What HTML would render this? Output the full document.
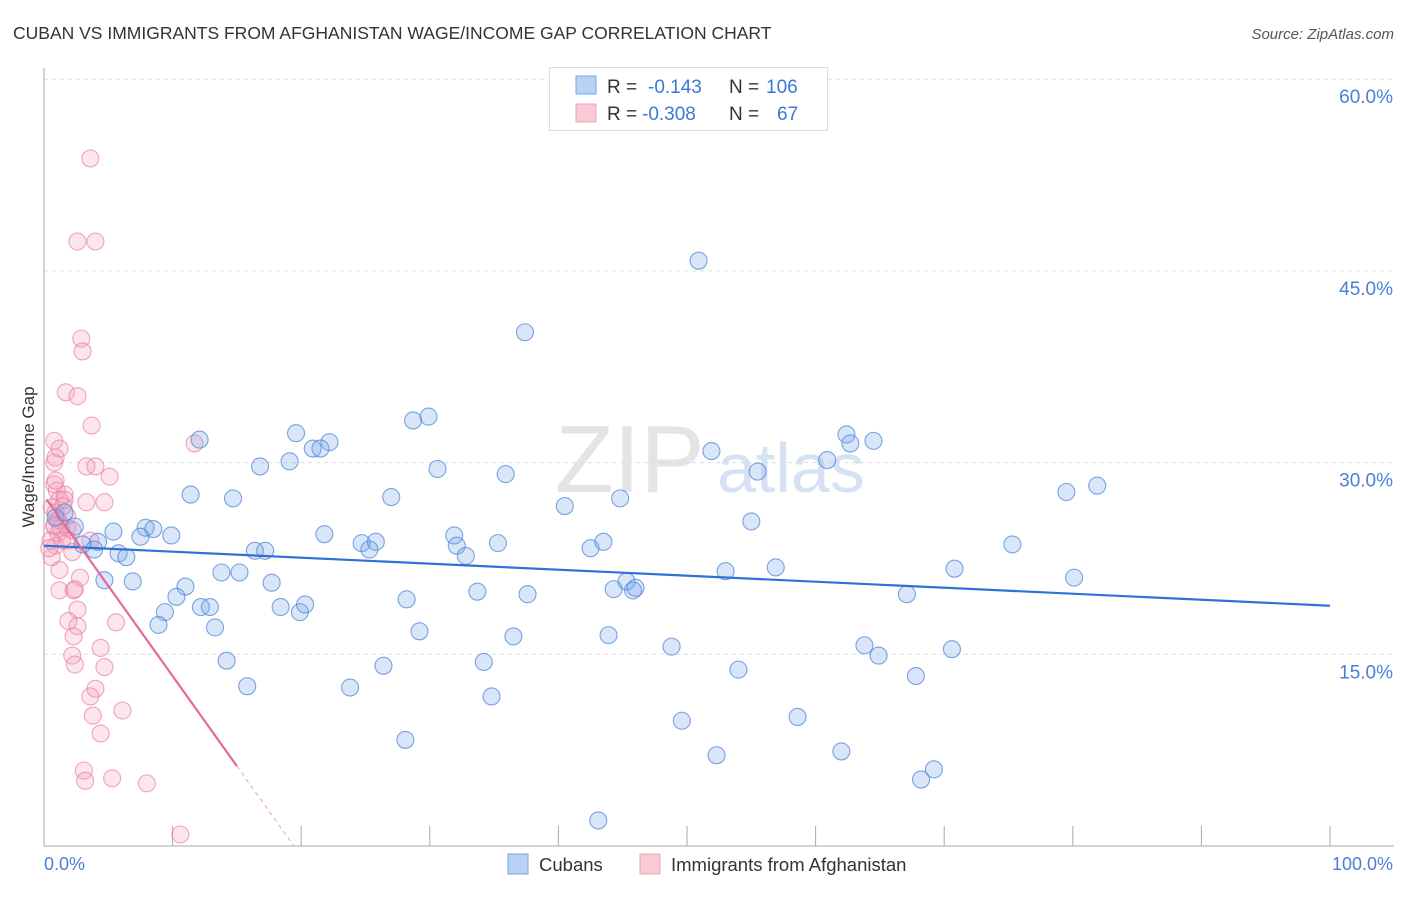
<!DOCTYPE html>
<html><head><meta charset="utf-8"><style>
body{margin:0;background:#fff;font-family:"Liberation Sans",sans-serif;}
svg text{font-family:"Liberation Sans",sans-serif;}
</style></head><body>
<svg id="chart" width="1406" height="892" viewBox="0 0 1406 892" xmlns="http://www.w3.org/2000/svg">
<text x="13" y="39" font-size="17.5" fill="#333">CUBAN VS IMMIGRANTS FROM AFGHANISTAN WAGE/INCOME GAP CORRELATION CHART</text>
<text x="1394" y="39" font-size="15" fill="#555" font-style="italic" text-anchor="end">Source: ZipAtlas.com</text>
<text x="555" y="492" font-size="96" fill="#e4e4e4" font-family="Liberation Serif">ZIP</text>
<text x="717" y="492" font-size="70" fill="#d6e2f3">atlas</text>
<g id="grid"></g>
<g id="axes"></g>
<g id="pink"></g>
<g id="blue"></g>
<g id="trends"></g>
<text transform="translate(34,457) rotate(-90)" font-size="17" fill="#333" text-anchor="middle">Wage/Income Gap</text>
<text x="44" y="870" font-size="18" fill="#4a7fd4">0.0%</text>
<text x="1393" y="870" font-size="18" fill="#4a7fd4" text-anchor="end">100.0%</text>
<g>
<rect x="549.5" y="67.5" width="278" height="63" fill="#fff" stroke="#ddd"/>
<rect x="576" y="76" width="20" height="18" fill="#b8d2f4" stroke="#7aa6e6"/>
<rect x="576" y="104" width="20" height="18" fill="#fbc8d6" stroke="#f0a0b8"/>
<text x="607" y="93" font-size="19" fill="#333">R =</text>
<text x="648" y="93" font-size="19" fill="#3a78d6">-0.143</text>
<text x="729" y="93" font-size="19" fill="#333">N =</text>
<text x="766" y="93" font-size="19" fill="#3a78d6">106</text>
<text x="607" y="120" font-size="19" fill="#333">R =</text>
<text x="642" y="120" font-size="19" fill="#3a78d6">-0.308</text>
<text x="729" y="120" font-size="19" fill="#333">N =</text>
<text x="777" y="120" font-size="19" fill="#3a78d6">67</text>
</g>
<g>
<rect x="508" y="854" width="20" height="20" fill="#b8d2f4" stroke="#7aa6e6"/>
<text x="539" y="871" font-size="18.5" fill="#333">Cubans</text>
<rect x="640" y="854" width="20" height="20" fill="#fbc8d6" stroke="#f0a0b8"/>
<text x="671" y="871" font-size="18.5" fill="#333">Immigrants from Afghanistan</text>
</g>
</svg>
<script>
const yTicks=[15,30,45,60];
const yTickLabels=["15.0%","30.0%","45.0%","60.0%"];
const xTicks=[0,10,20,30,40,50,60,70,80,90,100];
const cubanX=[50.9,37.4,29.9,28.7,12.1,19.6,22.2,20.9,21.5,19.1,16.8,30.6,35.9,51.9,62.4,62.7,64.5,60.9,55.5,79.5,81.9,11.4,14.7,27.0,40.5,44.8,0.9,1.6,2.4,5.4,7.9,8.5,9.9,7.5,4.2,3.0,3.9,5.8,6.4,16.4,17.2,21.8,24.7,25.8,25.3,31.9,32.1,32.8,35.3,42.5,43.5,55.0,75.3,4.7,6.9,11.0,13.8,15.2,17.7,10.3,12.2,12.9,9.4,8.9,13.3,18.4,19.9,20.3,28.2,33.7,37.6,44.3,45.3,45.8,46.0,53.0,56.9,70.8,80.1,67.1,29.2,36.5,43.9,48.8,63.8,64.9,70.6,14.2,26.4,34.2,54.0,67.8,15.8,23.8,34.8,49.6,58.6,28.1,52.3,62.0,69.2,68.2,43.1];
const cubanY=[45.8,40.2,33.6,33.3,31.8,32.3,31.6,31.1,31.1,30.1,29.7,29.5,29.1,30.9,32.2,31.5,31.7,30.2,29.3,27.7,28.2,27.5,27.2,27.3,26.6,27.2,25.7,26.1,25.0,24.6,24.9,24.8,24.3,24.2,23.8,23.6,23.2,22.9,22.6,23.1,23.1,24.4,23.7,23.8,23.2,24.3,23.5,22.7,23.7,23.3,23.8,25.4,23.6,20.8,20.7,20.3,21.4,21.4,20.6,19.5,18.7,18.7,18.3,17.3,17.1,18.7,18.3,18.9,19.3,19.9,19.7,20.1,20.7,20.0,20.2,21.5,21.8,21.7,21.0,19.7,16.8,16.4,16.5,15.6,15.7,14.9,15.4,14.5,14.1,14.4,13.8,13.3,12.5,12.4,11.7,9.8,10.1,8.3,7.1,7.4,6.0,5.2,2.0];
const afgX=[3.6,2.6,4.0,2.9,3.0,1.7,2.6,3.7,0.8,1.2,11.7,0.8,0.9,3.3,4.0,5.1,0.8,1.0,1.6,1.2,3.3,4.7,0.6,0.9,1.8,0.8,1.3,1.8,1.1,1.4,0.9,0.6,1.9,3.6,2.2,1.2,2.8,1.2,2.3,2.4,2.6,5.6,1.9,2.6,2.3,4.4,2.2,2.4,4.7,4.0,3.6,3.8,6.1,4.4,3.1,3.2,5.3,8.0,10.6,0.5,0.8,1.1,1.6,0.4,1.5,2.2,0.9];
const afgY=[53.8,47.3,47.3,39.7,38.7,35.5,35.2,32.9,31.7,31.1,31.5,30.0,30.4,29.7,29.7,28.9,28.3,27.8,27.5,27.1,26.9,26.9,26.5,26.1,25.8,25.1,24.9,24.9,24.5,23.9,23.5,22.6,23.9,23.9,23.0,21.6,21.0,20.0,20.0,20.1,18.5,17.5,17.6,17.2,16.4,15.5,14.9,14.2,14.0,12.3,11.7,10.2,10.6,8.8,5.9,5.1,5.3,4.9,0.9,23.9,25.0,25.5,27.1,23.3,26.6,24.7,28.6];
const cubanTrend=[23.5,18.8]; // value at x=0 and x=100
const afgTrend=[27.4,-1.41]; // intercept, slope
const afgSolidEnd=15;

const NS="http://www.w3.org/2000/svg";
const X0=44,X1=1330,Y0=846,PPY=12.78;
const sx=v=>X0+(X1-X0)*v/100;
const sy=v=>Y0-v*PPY;
function mk(tag,attrs,parent){const e=document.createElementNS(NS,tag);for(const k in attrs)e.setAttribute(k,attrs[k]);parent.appendChild(e);return e;}
const grid=document.getElementById('grid');
yTicks.forEach((t,i)=>{
  const l=mk('line',{x1:X0,x2:1394,y1:sy(t),y2:sy(t),stroke:'#ddd','stroke-dasharray':'4,4'},grid);
  
  
  const tx=mk('text',{x:1393,y:sy(t)+24,'font-size':19,fill:'#4a7fd4','text-anchor':'end'},grid);
  tx.textContent=yTickLabels[i];
  
  
});
const axes=document.getElementById('axes');
mk('line',{x1:X0,x2:X0,y1:68,y2:Y0,stroke:'#aaa'},axes);
mk('line',{x1:X0,x2:1394,y1:Y0,y2:Y0,stroke:'#aaa'},axes);
xTicks.forEach(t=>{
  const l=mk('line',{x1:sx(t),x2:sx(t),y1:826,y2:Y0,stroke:'#aaa'},axes);
  
  
});
function dots(xs,ys,g,fill,stroke,name){
  xs.forEach((x,i)=>{
    const c=mk('circle',{cx:sx(x),cy:sy(ys[i]),r:8.5,fill:fill,stroke:stroke,'stroke-width':1.1},g);
    
    
  });
}
dots(afgX,afgY,document.getElementById('pink'),'rgba(244,160,188,0.28)','rgba(232,130,162,0.7)','afghanistan-point');
dots(cubanX,cubanY,document.getElementById('blue'),'rgba(120,165,232,0.28)','rgba(80,135,215,0.75)','cuban-point');
const tr=document.getElementById('trends');
const bl=mk('line',{x1:sx(0),y1:sy(cubanTrend[0]),x2:sx(100),y2:sy(cubanTrend[1]),stroke:'#2f72d6','stroke-width':2.2},tr);


const af=x=>afgTrend[0]+afgTrend[1]*x;
const zeroX=-afgTrend[0]/afgTrend[1];
const pl=mk('line',{x1:sx(0.2),y1:sy(af(0.2)),x2:sx(afgSolidEnd),y2:sy(af(afgSolidEnd)),stroke:'#e56a93','stroke-width':2.2},tr);


const pd=mk('line',{x1:sx(afgSolidEnd),y1:sy(af(afgSolidEnd)),x2:sx(zeroX),y2:sy(0),stroke:'#e9a0b8','stroke-width':1,'stroke-dasharray':'4,4'},tr);


</script>
</body></html>
